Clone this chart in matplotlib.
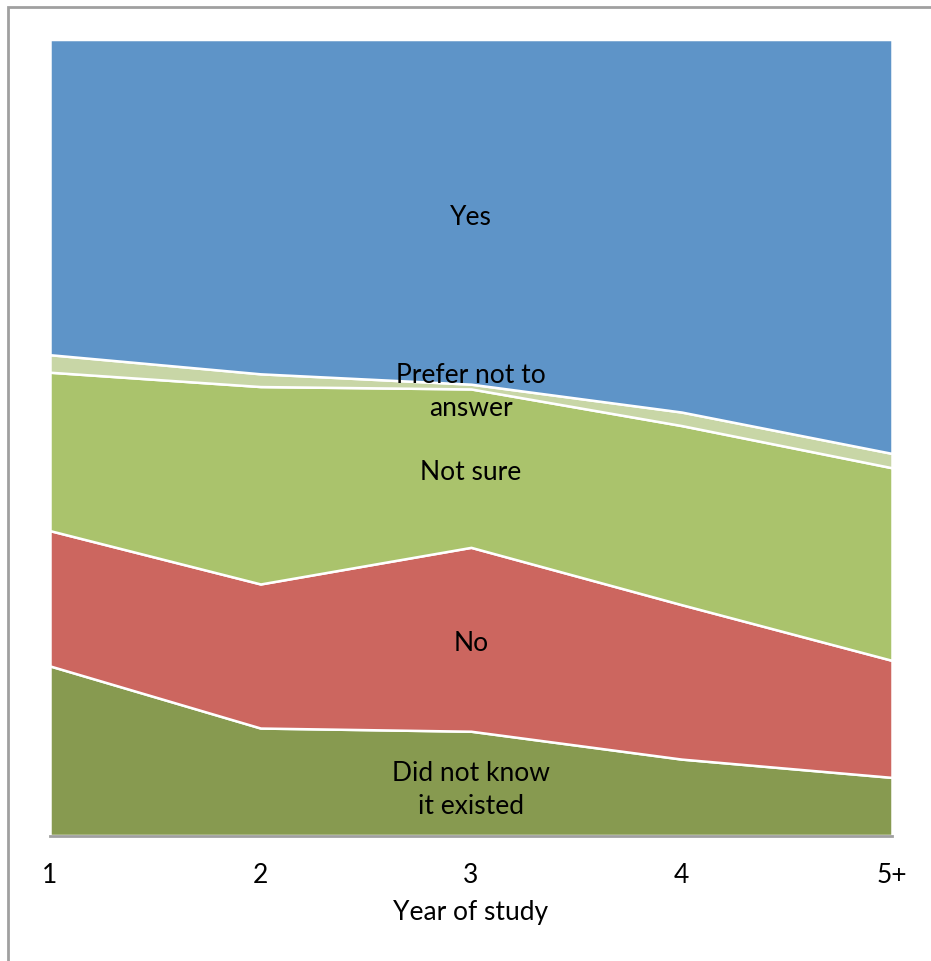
import numpy as np
import matplotlib.pyplot as plt
from matplotlib.patches import Rectangle

plt.rcParams['font.family'] = ['Lato', 'DejaVu Sans']

# Data (percent of respondents per year of study)
years = ['1', '2', '3', '4', '5+']
did_not_know = [21.3, 13.5, 13.1, 9.6, 7.3]
no = [17.0, 18.1, 23.1, 19.4, 14.7]
not_sure = [19.9, 24.8, 19.9, 22.5, 24.2]
prefer_not = [2.2, 1.6, 0.6, 1.7, 1.8]
yes = [39.6, 42.0, 43.3, 46.8, 52.0]

series = [did_not_know, no, not_sure, prefer_not, yes]
colors = ['#879A50', '#CC665F', '#AAC36C', '#C8D6A6', '#5E94C8']

fig = plt.figure(figsize=(9.31, 9.62), dpi=100)
ax = fig.add_axes([50 / 931, 125.5 / 962, 842 / 931, 796 / 962])

x = np.arange(len(years))
ax.stackplot(x, *series, colors=colors, edgecolor='white', linewidth=1.8)

ax.set_xlim(0, len(years) - 1)
ax.set_ylim(0, 100)
ax.set_yticks([])
ax.set_xticks(x)
ax.set_xticklabels(years, fontsize=19)
ax.tick_params(axis='x', length=0, pad=19)
ax.set_xlabel('Year of study', fontsize=19, labelpad=9)

for side in ['top', 'left', 'right']:
    ax.spines[side].set_visible(False)
ax.spines['bottom'].set_color('#A0A0A0')
ax.spines['bottom'].set_linewidth(2)

# in-area labels
labels = [
    (77.8, 'Yes'),
    (55.8, 'Prefer not to\nanswer'),
    (45.7, 'Not sure'),
    (24.3, 'No'),
    (5.9, 'Did not know\nit existed'),
]
for yv, txt in labels:
    ax.text(2, yv, txt, ha='center', va='center', fontsize=19,
            color='black', linespacing=1.4)

# outer chart frame
fig.patches.append(Rectangle((7.5 / 931, -0.1), 1.2, (962 - 7.5) / 962 + 0.1,
                             transform=fig.transFigure, fill=False,
                             edgecolor='#A0A0A0', linewidth=2))

fig.savefig('out.png', dpi=100)
